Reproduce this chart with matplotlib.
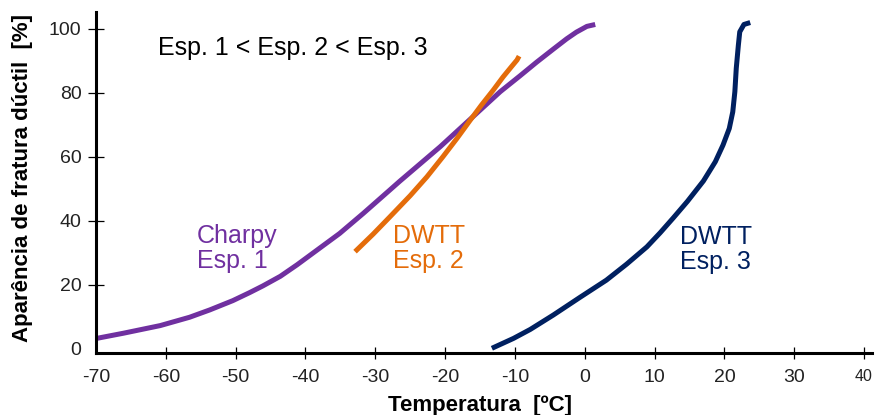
import matplotlib

matplotlib.use("Agg")
import matplotlib.pyplot as plt

plt.rcParams["font.family"] = ["Liberation Sans", "DejaVu Sans"]

# Charpy, Esp. 1 (temperature in C, ductile fracture appearance in %)
charpy_t = [-69.9, -66.1, -60.8, -56.6, -53.7, -50.4, -48.0, -46.1, -43.6,
            -41.2, -38.4, -35.1, -31.7, -27.9, -26.5, -20.7, -15.0, -12.1,
            -9.3, -6.9, -4.5, -2.6, -1.2, 0.3, 1.5]
charpy_y = [3.2, 4.8, 7.2, 9.8, 12.1, 15.0, 17.5, 19.6, 22.6,
            26.2, 30.7, 36.0, 42.3, 49.6, 52.3, 63.1, 74.5, 80.3,
            85.2, 89.5, 93.6, 96.8, 98.9, 100.7, 101.3]

# DWTT, Esp. 2
dwtt2_t = [-32.9, -30.3, -27.9, -25.0, -22.6, -20.3, -18.3, -16.4, -14.8,
           -13.1, -11.7, -10.5, -9.7, -9.4]
dwtt2_y = [30.3, 35.8, 41.2, 47.8, 53.7, 60.0, 65.7, 71.4, 76.1,
           80.8, 84.9, 88.1, 90.2, 91.4]

# DWTT, Esp. 3
dwtt3_t = [-13.3, -10.2, -7.8, -4.5, -0.7, 3.1, 6.0, 8.9, 10.8, 12.7,
           14.7, 17.0, 18.7, 19.8, 20.7, 21.2, 21.5, 21.7, 22.0, 22.2,
           22.8, 23.7]
dwtt3_y = [0.1, 3.2, 6.0, 10.5, 16.0, 21.4, 26.4, 31.8, 36.2, 40.9,
           46.0, 52.4, 58.4, 63.6, 68.8, 74.0, 80.3, 87.6, 94.8, 99.0,
           101.3, 101.9]

x_ticks = [-70, -60, -50, -40, -30, -20, -10, 0, 10, 20, 30, 40]
y_ticks = [0, 20, 40, 60, 80, 100]

PURPLE = "#7030A0"
ORANGE = "#E46C0A"
NAVY = "#002060"

fig = plt.figure(figsize=(8.8, 4.15), dpi=100)
ax = fig.add_axes((0.1091, 0.1494, 0.8818, 0.8217))

for t, y, c in [(charpy_t, charpy_y, PURPLE),
                (dwtt2_t, dwtt2_y, ORANGE),
                (dwtt3_t, dwtt3_y, NAVY)]:
    ax.plot(t, y, color=c, lw=3.6, solid_capstyle="butt", solid_joinstyle="round")

ax.set_xlim(-70, 41.14)
ax.set_ylim(-1.37, 105.2)

for side in ("top", "right"):
    ax.spines[side].set_visible(False)
for side in ("left", "bottom"):
    ax.spines[side].set_linewidth(2.2)
    ax.spines[side].set_color("black")

ax.set_xticks(x_ticks)
ax.set_yticks(y_ticks)
ax.set_xticklabels([str(v) for v in x_ticks])
ax.set_yticklabels([str(v) for v in y_ticks])
ax.tick_params(axis="x", direction="inout", length=9, width=0.9, pad=7,
               labelsize=14, labelcolor="#222222")
ax.tick_params(axis="y", direction="inout", length=11, width=0.9, pad=5,
               labelsize=14, labelcolor="#222222")
ax.yaxis.get_major_ticks()[0].tick1line.set_visible(False)
ax.xaxis.get_major_ticks()[0].tick1line.set_visible(False)
ax.get_xticklabels()[-1].set_fontsize(11.5)

ax.text(-61.1, 93.9, "Esp. 1 < Esp. 2 < Esp. 3", fontsize=18,
        color="black", ha="left", va="center")
ax.text(-55.5, 31.3, "Charpy\nEsp. 1", fontsize=18, color=PURPLE,
        ha="left", va="center", linespacing=1.05)
ax.text(-27.5, 31.3, "DWTT\nEsp. 2", fontsize=18, color=ORANGE,
        ha="left", va="center", linespacing=1.05)
ax.text(13.6, 31.1, "DWTT\nEsp. 3", fontsize=18, color=NAVY,
        ha="left", va="center", linespacing=1.05)

fig.text(480 / 880, 1 - 405 / 415, "Temperatura  [ºC]", fontsize=16,
         fontweight="bold", ha="center", va="center")
fig.text(23 / 880, 1 - 177.5 / 415, "Aparência de fratura dúctil  [%]",
         fontsize=16, fontweight="bold", rotation=90, ha="center", va="center")

fig.savefig("out.png", dpi=100)
